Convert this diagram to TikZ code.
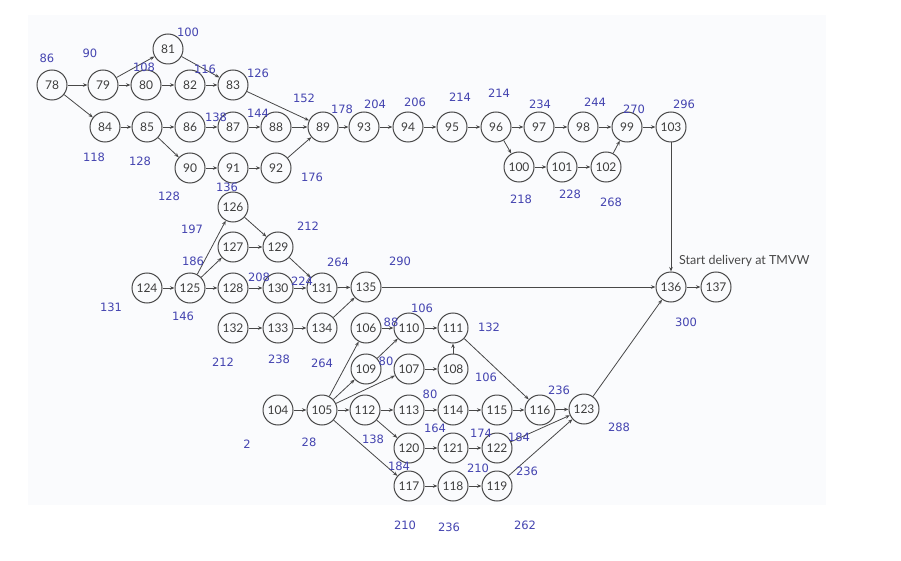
\documentclass[tikz,border=0pt]{standalone}
\usepackage{fontspec}
\usepackage{tikz}
\usetikzlibrary{arrows.meta}
\newfontfamily\evfont{Lato}
\newfontfamily\tmfont{DejaVu Sans}
\definecolor{scan}{RGB}{250,251,253}
\definecolor{ink}{RGB}{72,72,72}
\definecolor{tm}{RGB}{68,68,176}

\begin{document}
\begin{tikzpicture}[x=1pt, y=-1pt,
  ev/.style={circle, draw=ink, line width=1pt, minimum size=30pt, inner sep=0pt, text=ink!85!black, font=\evfont\fontsize{12}{12}\selectfont},
  act/.style={-{Stealth[length=4.5pt,width=3.5pt]}, draw=ink, line width=0.8pt},
  tl/.style={text=tm, font=\tmfont\fontsize{11.5}{12}\selectfont, inner sep=0pt}]
  \useasboundingbox (0,0) rectangle (901,561);
  \fill [scan] (28,15) rectangle (826,505);
  % events, top network
  \node [ev] (n78) at (52,85) {78};
  \node [ev] (n79) at (103,85) {79};
  \node [ev] (n81) at (168,49) {81};
  \node [ev] (n80) at (146,85) {80};
  \node [ev] (n82) at (190,85) {82};
  \node [ev] (n83) at (233,85) {83};
  \node [ev] (n84) at (105,127) {84};
  \node [ev] (n85) at (147,127) {85};
  \node [ev] (n86) at (190,127) {86};
  \node [ev] (n87) at (233,127) {87};
  \node [ev] (n88) at (276,127) {88};
  \node [ev] (n89) at (323,127) {89};
  \node [ev] (n90) at (190,168) {90};
  \node [ev] (n91) at (233,168) {91};
  \node [ev] (n92) at (276,168) {92};
  \node [ev] (n93) at (364,127) {93};
  \node [ev] (n94) at (408,127) {94};
  \node [ev] (n95) at (452,127) {95};
  \node [ev] (n96) at (496,127) {96};
  \node [ev] (n97) at (539,127) {97};
  \node [ev] (n98) at (583,127) {98};
  \node [ev] (n99) at (627,127) {99};
  \node [ev] (n103) at (671,127) {103};
  \node [ev] (n100) at (519,167) {100};
  \node [ev] (n101) at (562,167) {101};
  \node [ev] (n102) at (606,167) {102};
  % events, middle network
  \node [ev] (n126) at (233,207) {126};
  \node [ev] (n127) at (233,247) {127};
  \node [ev] (n129) at (278,247) {129};
  \node [ev] (n124) at (147,288) {124};
  \node [ev] (n125) at (190,288) {125};
  \node [ev] (n128) at (233,288) {128};
  \node [ev] (n130) at (278,288) {130};
  \node [ev] (n131) at (322,288) {131};
  \node [ev] (n135) at (366,287) {135};
  \node [ev] (n132) at (233,328) {132};
  \node [ev] (n133) at (278,328) {133};
  \node [ev] (n134) at (322,328) {134};
  \node [ev] (n136) at (671,287) {136};
  \node [ev] (n137) at (716,287) {137};
  % events, bottom network
  \node [ev] (n106) at (366,328) {106};
  \node [ev] (n110) at (409,328) {110};
  \node [ev] (n111) at (453,328) {111};
  \node [ev] (n109) at (366,369) {109};
  \node [ev] (n107) at (409,369) {107};
  \node [ev] (n108) at (453,369) {108};
  \node [ev] (n104) at (278,410) {104};
  \node [ev] (n105) at (322,410) {105};
  \node [ev] (n112) at (365,410) {112};
  \node [ev] (n113) at (409,410) {113};
  \node [ev] (n114) at (453,410) {114};
  \node [ev] (n115) at (497,410) {115};
  \node [ev] (n116) at (540,410) {116};
  \node [ev] (n123) at (584,409) {123};
  \node [ev] (n120) at (409,448) {120};
  \node [ev] (n121) at (453,448) {121};
  \node [ev] (n122) at (497,448) {122};
  \node [ev] (n117) at (409,486) {117};
  \node [ev] (n118) at (453,486) {118};
  \node [ev] (n119) at (497,486) {119};
  \node [anchor=west, inner sep=0pt, text=ink, font=\evfont\fontsize{12.5}{13}\selectfont] (start) at (679,261) {Start delivery at TMVW};
  % activities
  \draw [act] (n78)--(n79);
  \draw [act] (n78)--(n84);
  \draw [act] (n79)--(n81);
  \draw [act] (n79)--(n80);
  \draw [act] (n80)--(n82);
  \draw [act] (n82)--(n83);
  \draw [act] (n81)--(n83);
  \draw [act] (n83)--(n89);
  \draw [act] (n84)--(n85);
  \draw [act] (n85)--(n86);
  \draw [act] (n86)--(n87);
  \draw [act] (n87)--(n88);
  \draw [act] (n88)--(n89);
  \draw [act] (n85)--(n90);
  \draw [act] (n90)--(n91);
  \draw [act] (n91)--(n92);
  \draw [act] (n92)--(n89);
  \draw [act] (n89)--(n93);
  \draw [act] (n93)--(n94);
  \draw [act] (n94)--(n95);
  \draw [act] (n95)--(n96);
  \draw [act] (n96)--(n97);
  \draw [act] (n97)--(n98);
  \draw [act] (n98)--(n99);
  \draw [act] (n99)--(n103);
  \draw [act] (n96)--(n100);
  \draw [act] (n100)--(n101);
  \draw [act] (n101)--(n102);
  \draw [act] (n102)--(n99);
  \draw [act] (n103)--(n136);
  \draw [act] (n124)--(n125);
  \draw [act] (n125)--(n126);
  \draw [act] (n125)--(n127);
  \draw [act] (n125)--(n128);
  \draw [act] (n126)--(n129);
  \draw [act] (n127)--(n129);
  \draw [act] (n128)--(n130);
  \draw [act] (n130)--(n131);
  \draw [act] (n129)--(n131);
  \draw [act] (n131)--(n135);
  \draw [act] (n132)--(n133);
  \draw [act] (n133)--(n134);
  \draw [act] (n134)--(n135);
  \draw [act] (n135)--(n136);
  \draw [act] (n136)--(n137);
  \draw [act] (n104)--(n105);
  \draw [act] (n105)--(n106);
  \draw [act] (n105)--(n109);
  \draw [act] (n105)--(n107);
  \draw [act] (n105)--(n112);
  \draw [act] (n105)--(n117);
  \draw [act] (n106)--(n110);
  \draw [act] (n109)--(n110);
  \draw [act] (n110)--(n111);
  \draw [act] (n107)--(n108);
  \draw [act] (n108)--(n111);
  \draw [act] (n111)--(n116);
  \draw [act] (n112)--(n113);
  \draw [act] (n112)--(n120);
  \draw [act] (n113)--(n114);
  \draw [act] (n114)--(n115);
  \draw [act] (n115)--(n116);
  \draw [act] (n116)--(n123);
  \draw [act] (n120)--(n121);
  \draw [act] (n121)--(n122);
  \draw [act] (n122)--(n123);
  \draw [act] (n117)--(n118);
  \draw [act] (n118)--(n119);
  \draw [act] (n119)--(n123);
  \draw [act] (n123)--(n136);
  % times
  \node [tl] (t78) at (47,58) {86};
  \node [tl] (t79) at (90,53) {90};
  \node [tl] (t81) at (188,32) {100};
  \node [tl] (t80) at (144,67) {108};
  \node [tl] (t82) at (205,69) {116};
  \node [tl] (t83) at (258,73) {126};
  \node [tl] (t89) at (304,98) {152};
  \node [tl] (t93) at (342,109) {178};
  \node [tl] (t94) at (375,104) {204};
  \node [tl] (t95) at (415,102) {206};
  \node [tl] (t96) at (460,97) {214};
  \node [tl] (t97) at (499,93) {214};
  \node [tl] (t98) at (540,104) {234};
  \node [tl] (t99) at (595,102) {244};
  \node [tl] (t103) at (634,109) {270};
  \node [tl] (t136) at (684,104) {296};
  \node [tl] (t87) at (216,117) {138};
  \node [tl] (t88) at (258,113) {144};
  \node [tl] (t84) at (94,157) {118};
  \node [tl] (t85) at (140,161) {128};
  \node [tl] (t90) at (169,196) {128};
  \node [tl] (t91) at (227,187) {136};
  \node [tl] (t92) at (312,177) {176};
  \node [tl] (t100) at (521,199) {218};
  \node [tl] (t101) at (570,194) {228};
  \node [tl] (t102) at (611,202) {268};
  \node [tl] (t126) at (192,229) {197};
  \node [tl] (t129) at (308,226) {212};
  \node [tl] (t127) at (193,261) {186};
  \node [tl] (t131) at (338,262) {264};
  \node [tl] (t135) at (400,261) {290};
  \node [tl] (t130) at (259,277) {208};
  \node [tl] (t128) at (302,281) {224};
  \node [tl] (t124) at (111,307) {131};
  \node [tl] (t125) at (183,316) {146};
  \node [tl] (t132) at (223,362) {212};
  \node [tl] (t133) at (279,359) {238};
  \node [tl] (t134) at (322,363) {264};
  \node [tl] (t106) at (391,322) {88};
  \node [tl] (t110) at (422,308) {106};
  \node [tl] (t109) at (386,361) {80};
  \node [tl] (t111) at (489,327) {132};
  \node [tl] (t108) at (486,377) {106};
  \node [tl] (t113) at (430,394) {80};
  \node [tl] (t114) at (435,428) {164};
  \node [tl] (t121) at (481,433) {174};
  \node [tl] (t122) at (519,437) {184};
  \node [tl] (t112) at (373,439) {138};
  \node [tl] (t120) at (399,466) {184};
  \node [tl] (t118) at (478,468) {210};
  \node [tl] (t119) at (527,471) {236};
  \node [tl] (t104) at (247,444) {2};
  \node [tl] (t105) at (309,442) {28};
  \node [tl] (t117) at (405,525) {210};
  \node [tl] (t118b) at (449,527) {236};
  \node [tl] (t119b) at (525,525) {262};
  \node [tl] (t116) at (559,390) {236};
  \node [tl] (t123) at (619,427) {288};
  \node [tl] (t137) at (686,322) {300};
\end{tikzpicture}
\end{document}
